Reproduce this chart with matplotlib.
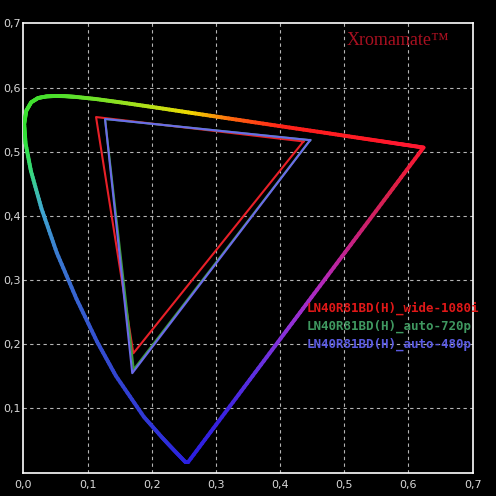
import numpy as np
import matplotlib
matplotlib.use("Agg")
import matplotlib.pyplot as plt
from matplotlib.collections import LineCollection
from matplotlib.colors import to_rgb

# CIE 1976 u'v' spectral locus (380 -> 700 nm)
locus_u = [0.2568, 0.2522, 0.2347, 0.2161, 0.1877, 0.1441, 0.1147, 0.0828,
           0.0521, 0.0282, 0.0119, 0.0035, 0.0014, 0.0046, 0.0123, 0.0231,
           0.0360, 0.0501, 0.0643, 0.0792, 0.1127, 0.1531, 0.2026, 0.2623,
           0.3315, 0.4035, 0.4692, 0.5203, 0.5565, 0.5830, 0.6005, 0.6234]
locus_v = [0.0166, 0.0169, 0.0350, 0.0549, 0.0871, 0.1510, 0.2044, 0.2708,
           0.3427, 0.4117, 0.4698, 0.5131, 0.5432, 0.5638, 0.5770, 0.5837,
           0.5861, 0.5868, 0.5865, 0.5856, 0.5821, 0.5766, 0.5694, 0.5604,
           0.5501, 0.5393, 0.5296, 0.5219, 0.5165, 0.5125, 0.5099, 0.5065]
locus_colors = ["#2a1ee0", "#2a22e0", "#2c28dc", "#2e30d8", "#3038d4", "#3244d0",
                "#3450d0", "#3662d0", "#3a7ad0", "#40a8d0", "#38d880", "#30e040",
                "#34e030", "#3ce030", "#40e030", "#44e030", "#48e02c", "#4ce02c",
                "#54e02c", "#5ce02c", "#70e028", "#90e020", "#b8e018", "#f0d800",
                "#ff6010", "#ff2418", "#ff1c20", "#ff1c24", "#ff1828", "#ff1830",
                "#ff1830", "#ff1830"]

# line of purples (red end -> blue end), colours along it
purple_colors = ["#ff1830", "#d82048", "#c82078", "#b428b8", "#9030d8", "#6030e0",
                 "#3a22e0", "#2a1ee0"]

# gamut triangles: R, G, B vertices
names = ["LN40R81BD(H)_wide-1080i", "LN40R81BD(H)_auto-720p", "LN40R81BD(H)_auto-480p"]
tri_u = [[0.4364, 0.1133, 0.1714],
         [0.4468, 0.1273, 0.1720],
         [0.4468, 0.1273, 0.1697]]
tri_v = [[0.5160, 0.5540, 0.1860],
         [0.5180, 0.5510, 0.1610],
         [0.5180, 0.5510, 0.1550]]
tri_colors = ["#e82028", "#3c9a3c", "#6a6aea"]
text_colors = ["#e01818", "#3f9860", "#5a5ae0"]


def gradient_line(ax, u, v, colors, steps=12, lw=2.8):
    # draws the given polyline, each segment split only for smooth colour
    segs, cols = [], []
    for i in range(len(u) - 1):
        c0 = np.array(to_rgb(colors[i]))
        c1 = np.array(to_rgb(colors[i + 1]))
        for k in range(steps):
            t0, t1 = k / steps, (k + 1) / steps
            p0 = (u[i] + (u[i + 1] - u[i]) * t0, v[i] + (v[i + 1] - v[i]) * t0)
            p1 = (u[i] + (u[i + 1] - u[i]) * t1, v[i] + (v[i + 1] - v[i]) * t1)
            segs.append([p0, p1])
            cols.append(c0 + (c1 - c0) * (t0 + t1) / 2)
    lc = LineCollection(segs, colors=cols, linewidths=lw, capstyle="round", zorder=3)
    ax.add_collection(lc)


fig = plt.figure(figsize=(4.96, 4.96), dpi=100, facecolor="black")
ax = fig.add_axes([0.047, 0.047, 0.906, 0.906], facecolor="black")

gradient_line(ax, locus_u, locus_v, locus_colors)

# purple line, colour stops spread evenly along it
pu = [locus_u[-1], locus_u[0]]
pv = [locus_v[-1], locus_v[0]]
stops = len(purple_colors) - 1
for s in range(stops):
    a, b = s / stops, (s + 1) / stops
    gradient_line(ax,
                  [pu[0] + (pu[1] - pu[0]) * a, pu[0] + (pu[1] - pu[0]) * b],
                  [pv[0] + (pv[1] - pv[0]) * a, pv[0] + (pv[1] - pv[0]) * b],
                  [purple_colors[s], purple_colors[s + 1]])

for i in range(3):
    ax.plot(tri_u[i] + [tri_u[i][0]], tri_v[i] + [tri_v[i][0]],
            color=tri_colors[i], lw=1.5, zorder=4 + i)

for i, name in enumerate(names):
    ax.text(0.442, 0.2565 - i * 0.0282, name, color=text_colors[i],
            fontsize=9.0, family="DejaVu Sans Mono", fontweight="bold",
            va="center", ha="left", zorder=10)

ax.text(0.504, 0.674, "Xromamate™", color="#a81020", fontsize=13,
        family="Liberation Serif", va="center", ha="left", zorder=10)

ax.set_xlim(0, 0.7)
ax.set_ylim(0, 0.7)
ax.set_xticks(np.arange(0, 0.71, 0.1))
ax.set_yticks(np.arange(0.1, 0.71, 0.1))
ax.set_xticklabels(["0,0", "0,1", "0,2", "0,3", "0,4", "0,5", "0,6", "0,7"])
ax.set_yticklabels(["0,1", "0,2", "0,3", "0,4", "0,5", "0,6", "0,7"])
ax.tick_params(axis="x", length=0, pad=5, labelsize=8, labelcolor="#d8d8d8")
ax.tick_params(axis="y", length=0, pad=2, labelsize=8, labelcolor="#d8d8d8")

for g in np.arange(0.1, 0.65, 0.1):
    ax.axvline(g, color="#b4b4b4", lw=0.8, ls=(0, (3, 3)), zorder=1)
    ax.axhline(g, color="#b4b4b4", lw=0.8, ls=(0, (3, 3)), zorder=1)

for sp in ax.spines.values():
    sp.set_color("white")
    sp.set_linewidth(1.2)

fig.savefig("out.png", dpi=100, facecolor="black")
